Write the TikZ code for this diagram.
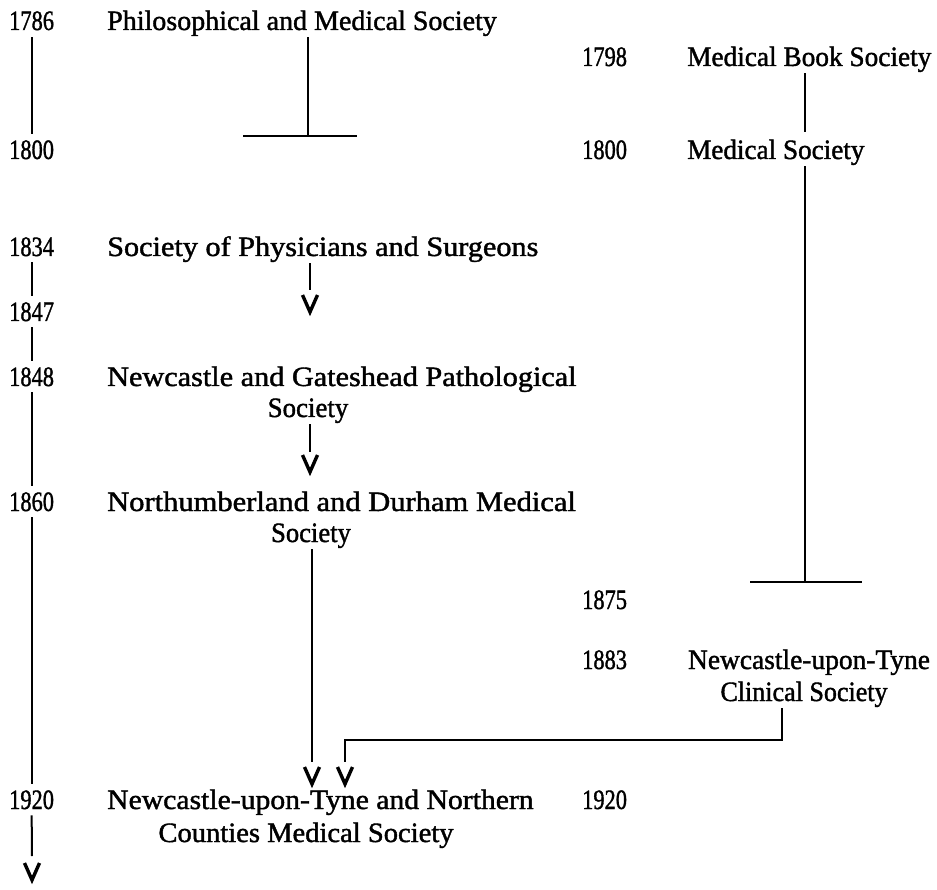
\documentclass[tikz,border=0pt]{standalone}
\usepackage{fontspec}
\setmainfont{Liberation Serif}[FakeBold=1.4]
\usetikzlibrary{calc}
\newcommand\yrtext[1]{\scalebox{0.8}[1]{#1}}
\newcommand\wtext[2]{\scalebox{#1}[1]{#2}}
\begin{document}
\begin{tikzpicture}[x=1pt,y=-1pt,
  every node/.style={inner sep=0pt, font=\fontsize{28}{32}\selectfont},
  yr/.style={anchor=base west},
  lbl/.style={anchor=base west},
  lbc/.style={anchor=base},
  ln/.style={line width=2pt},
  vhead/.pic={\draw[line width=3.4pt, line join=miter, line cap=butt] (-7.5,-17) -- (0,0) -- (7.5,-17);}]
\useasboundingbox (0,0) rectangle (937,890);
% years
\node[yr] (a1786) at (9,30) {\yrtext{1786}};
\node[yr] (a1798) at (582,66) {\yrtext{1798}};
\node[yr] (a1800) at (9,159) {\yrtext{1800}};
\node[yr] (b1800) at (582,159) {\yrtext{1800}};
\node[yr] (a1834) at (9,256) {\yrtext{1834}};
\node[yr] (a1847) at (9,321) {\yrtext{1847}};
\node[yr] (a1848) at (9,386) {\yrtext{1848}};
\node[yr] (a1860) at (9,511) {\yrtext{1860}};
\node[yr] (a1875) at (582,609) {\yrtext{1875}};
\node[yr] (a1883) at (582,669) {\yrtext{1883}};
\node[yr] (a1920) at (9,809) {\yrtext{1920}};
\node[yr] (b1920) at (582,809) {\yrtext{1920}};
% societies
\node[lbl] (phil) at (107,30) {Philosophical and Medical Society};
\node[lbl] (mbs) at (687,66) {\wtext{0.975}{Medical Book Society}};
\node[lbl] (ms) at (687,159) {\wtext{0.97}{Medical Society}};
\node[lbl] (sps) at (107,256) {\wtext{1.08}{Society of Physicians and Surgeons}};
\node[lbl] (ngp) at (107,386) {\wtext{1.08}{Newcastle and Gateshead Pathological}};
\node[lbc] (ngp2) at (308,417) {\wtext{0.96}{Society}};
\node[lbl] (ndm) at (107,511) {\wtext{1.09}{Northumberland and Durham Medical}};
\node[lbc] (ndm2) at (311,542) {\wtext{0.95}{Society}};
\node[lbc] (ncs) at (809,669) {\wtext{0.98}{Newcastle-upon-Tyne}};
\node[lbc] (ncs2) at (804,701) {\wtext{0.93}{Clinical Society}};
\node[lbl] (nnc) at (107,809) {\wtext{1.06}{Newcastle-upon-Tyne and Northern}};
\node[lbc] (nnc2) at (306,842) {\wtext{1.02}{Counties Medical Society}};
% coordinates
\coordinate (t1) at (308,136);
\coordinate (t1l) at (243,136);
\coordinate (t1r) at (357,136);
\coordinate (v1t) at (310,290);
\coordinate (v1) at (310,312);
\coordinate (v2t) at (310,452);
\coordinate (v2) at (310,472);
\coordinate (v3t) at (312,762);
\coordinate (v3) at (312,784);
\coordinate (c1) at (782,740);
\coordinate (c2) at (345,740);
\coordinate (v4t) at (345,762);
\coordinate (v4) at (345,784);
\coordinate (rx) at (805,0);
\coordinate (t2) at (805,582);
\coordinate (t2l) at (750,582);
\coordinate (t2r) at (862,582);
\coordinate (l1t) at (32,856);
\coordinate (l1) at (32,880);
% left time line
\draw[ln, shorten <=7pt, shorten >=6pt] (a1786.south) -- (a1800.north);
\draw[ln, shorten <=6pt, shorten >=6pt] (a1834.south) -- (a1847.north);
\draw[ln, shorten <=6pt, shorten >=6pt] (a1847.south) -- (a1848.north);
\draw[ln, shorten <=6pt, shorten >=6pt] (a1848.south) -- (a1860.north);
\draw[ln, shorten <=6pt, shorten >=6pt] (a1860.south) -- (a1920.north);
\draw[ln, shorten <=6pt] (a1920.south) -- (l1t);
\pic at (l1) {vhead};
% centre column
\draw[ln, shorten <=1pt] (phil.south -| t1) -- (t1);
\draw[ln] (t1l) -- (t1r);
\draw[ln, shorten <=1pt] (sps.south -| v1t) -- (v1t);
\pic at (v1) {vhead};
\draw[ln, shorten <=1pt] (ngp2.south -| v2t) -- (v2t);
\pic at (v2) {vhead};
\draw[ln, shorten <=1pt] (ndm2.south -| v3t) -- (v3t);
\pic at (v3) {vhead};
\draw[ln, shorten <=1pt] (ncs2.south -| c1) -- (c1) -- (c2) -- (v4t);
\pic at (v4) {vhead};
% right column
\draw[ln, shorten <=1pt, shorten >=7pt] (mbs.south -| rx) -- (ms.north -| rx);
\draw[ln, shorten <=1pt] (ms.south -| rx) -- (t2);
\draw[ln] (t2l) -- (t2r);
\end{tikzpicture}
\end{document}
